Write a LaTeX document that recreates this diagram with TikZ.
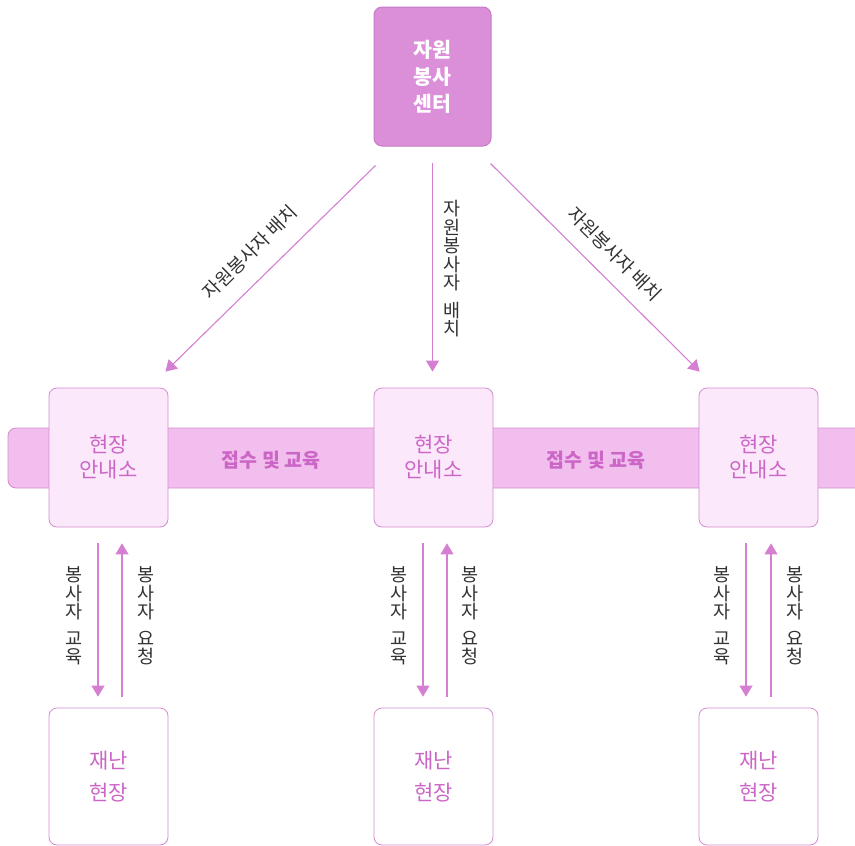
\documentclass[tikz,border=0pt]{standalone}
\usepackage{fontspec}
\setmainfont{Noto Sans CJK KR}
\usetikzlibrary{arrows.meta,calc}
\definecolor{topfill}{HTML}{DB8FD9}
\definecolor{topdraw}{HTML}{C77AC6}
\definecolor{bandfill}{HTML}{F2BEEE}
\definecolor{banddraw}{HTML}{D48CD0}
\definecolor{boxfill}{HTML}{FCE8FB}
\definecolor{boxdraw}{HTML}{D48CD0}
\definecolor{pinktext}{HTML}{CC66C6}
\definecolor{arrowcol}{HTML}{D47FD2}
\definecolor{labtext}{HTML}{333333}
\tikzset{
  x=1pt, y=1pt,
  topbox/.style={draw=topdraw, line width=1pt, fill=topfill, rounded corners=8pt,
    minimum width=117pt, minimum height=139pt, inner sep=0pt,
    text=white, font=\fontsize{20.5}{27}\selectfont\bfseries, align=center},
  midbox/.style={draw=boxdraw, line width=0.8pt, fill=boxfill, rounded corners=8pt,
    minimum width=119pt, minimum height=139pt, inner sep=0pt,
    text=pinktext, font=\fontsize{21}{25}\selectfont, align=center},
  botbox/.style={draw=boxdraw, line width=0.8pt, fill=white, rounded corners=8pt,
    minimum width=119pt, minimum height=137pt, inner sep=0pt,
    text=pinktext, font=\fontsize{21}{32}\selectfont, align=center},
  bandtext/.style={text=pinktext, font=\fontsize{19.5}{22}\selectfont\bfseries},
  conn/.style={draw=arrowcol, line width=1.1pt, -{Triangle[length=11pt,width=13pt]}, arrowcol},
  lab/.style={text=labtext, font=\fontsize{18.5}{20}\selectfont, inner sep=0pt},
  vlab/.style={text=labtext, font=\fontsize{18.5}{20.5}\selectfont, inner sep=0pt, align=center},
}
\begin{document}
\begin{tikzpicture}
\useasboundingbox (0,0) rectangle (855,-846);
\clip (0,0) rectangle (855,-846);
% band
\path[fill=bandfill, draw=banddraw, line width=0.8pt, rounded corners=8pt]
  (880,-428) -- (8,-428) -- (8,-488) -- (880,-488);
% top box
\node[topbox] (top) at (432.5,-76.5) {자원\\봉사\\센터};
% middle boxes
\node[midbox] (lb1) at (108.5,-457.5) {현장\\안내소};
\node[midbox] (lb2) at (433.5,-457.5) {현장\\안내소};
\node[midbox] (lb3) at (758.5,-457.5) {현장\\안내소};
\node[bandtext] (bt1) at (271,-460) {접수 및 교육};
\node[bandtext] (bt2) at (596,-460) {접수 및 교육};
% bottom boxes
\node[botbox] (dz1) at (108.5,-776.5) {재난\\현장};
\node[botbox] (dz2) at (433.5,-776.5) {재난\\현장};
\node[botbox] (dz3) at (758.5,-776.5) {재난\\현장};
% top arrows
\draw[conn] ($(top.south west)+(2,-19)$) -- ($(lb1.north east)+(-3,16)$);
\draw[conn] ($(top.south)+(0,-16)$) -- ($(lb2.north)+(-1,16)$);
\draw[conn] ($(top.south east)+(-1,-17)$) -- ($(lb3.north west)+(1,16)$);
\node[lab, rotate=44.5] (l1) at (250,-252) {자원봉사자 배치};
\node[lab, rotate=-45] (l3) at (615,-254) {자원봉사자 배치};
\node[vlab] (l2) at (452,-269) {자\\[-2pt]원\\[-2pt]봉\\[-2pt]사\\[-2pt]자\\[7pt]배\\[-2pt]치};
% bottom arrows
\foreach \i/\dl/\ul in {1/-10.5/13.5, 2/-10.5/13.5, 3/-12.5/12.5}{
  \draw[conn] ($(lb\i.south)+(\dl,-16)$) -- ($(dz\i.north)+(\dl,11)$);
  \draw[conn] ($(dz\i.north)+(\ul,11)$) -- ($(lb\i.south)+(\ul,-16)$);
}
\node[vlab] (e1) at (74,-616) {봉\\[-2pt]사\\[-2pt]자\\[6pt]교\\[-2pt]육};
\node[vlab] (r1) at (146,-616) {봉\\[-2pt]사\\[-2pt]자\\[6pt]요\\[-2pt]청};
\node[vlab] (e2) at (399,-616) {봉\\[-2pt]사\\[-2pt]자\\[6pt]교\\[-2pt]육};
\node[vlab] (r2) at (470,-616) {봉\\[-2pt]사\\[-2pt]자\\[6pt]요\\[-2pt]청};
\node[vlab] (e3) at (722,-616) {봉\\[-2pt]사\\[-2pt]자\\[6pt]교\\[-2pt]육};
\node[vlab] (r3) at (795,-616) {봉\\[-2pt]사\\[-2pt]자\\[6pt]요\\[-2pt]청};
\end{tikzpicture}
\end{document}
